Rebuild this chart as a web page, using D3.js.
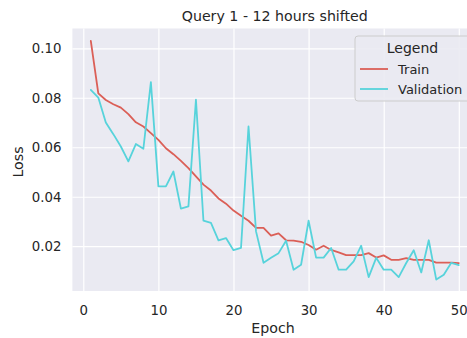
<!DOCTYPE html>
<html><head><meta charset="utf-8">
<script src="https://cdn.jsdelivr.net/npm/d3@7"></script>
<style>body{margin:0;background:#fff;} svg{display:block;font-family:"DejaVu Sans",sans-serif;}</style>
</head><body><svg id="c" width="467" height="338"></svg>
<script>
const epochs = d3.range(1, 51);
const train = [0.1030,0.0818,0.0791,0.0774,0.0760,0.0734,0.0701,0.0684,0.0657,0.0630,
  0.0596,0.0572,0.0545,0.0516,0.0482,0.0449,0.0425,0.0393,0.0372,0.0344,
  0.0323,0.0303,0.0274,0.0274,0.0243,0.0252,0.0224,0.0223,0.0218,0.0205,
  0.0186,0.0202,0.0185,0.0175,0.0164,0.0164,0.0164,0.0172,0.0154,0.0163,
  0.0145,0.0145,0.0152,0.0145,0.0145,0.0145,0.0134,0.0134,0.0134,0.0132];
const validation = [0.0832,0.0801,0.0700,0.0653,0.0603,0.0543,0.0613,0.0594,0.0863,0.0442,
  0.0442,0.0502,0.0352,0.0361,0.0792,0.0303,0.0294,0.0224,0.0233,0.0184,
  0.0193,0.0684,0.0260,0.0133,0.0153,0.0172,0.0222,0.0105,0.0125,0.0303,
  0.0154,0.0154,0.0193,0.0105,0.0105,0.0139,0.0202,0.0075,0.0153,0.0105,
  0.0105,0.0075,0.0132,0.0184,0.0094,0.0224,0.0065,0.0085,0.0133,0.0124];
const xTicks = [0,10,20,30,40,50];
const yTicks = [0.02,0.04,0.06,0.08,0.10];
const seriesNames = ["Train","Validation"];
const colors = ["#db5f57","#57d3db"];

const svg = d3.select("#c");
const L = 72.4, R = 477.2, T = 28.5, B = 291;
const x = d3.scaleLinear().domain([-1.45, 52.45]).range([L, R]);
const y = d3.scaleLinear().domain([0.0019, 0.1080]).range([B, T]);
const txt = "#262626";

svg.append("rect").attr("x", L).attr("y", T).attr("width", R - L).attr("height", B - T).attr("fill", "#eaeaf2");

const gx = svg.append("g").attr("transform", `translate(0,${B})`)
  .call(d3.axisBottom(x).tickValues(xTicks).tickSize(-(B - T)).tickPadding(14.5).tickFormat(d3.format("d")));
const gy = svg.append("g").attr("transform", `translate(${L},0)`)
  .call(d3.axisLeft(y).tickValues(yTicks).tickSize(-(R - L)).tickPadding(11).tickFormat(d3.format(".2f")));
[gx, gy].forEach(g => {
  g.select(".domain").remove();
  g.selectAll(".tick line").attr("stroke", "#fff").attr("stroke-width", 1.2);
  g.selectAll(".tick text").attr("fill", txt).style("font-size", "13.3px").style("font-family", "DejaVu Sans");
});

const line = d3.line().x((d, i) => x(epochs[i])).y(d => y(d));
[train, validation].forEach((s, k) => {
  svg.append("path").datum(s).attr("d", line).attr("fill", "none")
    .attr("stroke", colors[k]).attr("stroke-width", 1.8).attr("stroke-linejoin", "round").attr("stroke-linecap", "round");
});

svg.append("text").attr("x", 274.8).attr("y", 21).attr("text-anchor", "middle")
  .attr("fill", txt).style("font-size", "14.2px").text("Query 1 - 12 hours shifted");
svg.append("text").attr("x", 273).attr("y", 333).attr("text-anchor", "middle")
  .attr("fill", txt).style("font-size", "14.2px").text("Epoch");
svg.append("text").attr("transform", "translate(23,162) rotate(-90)").attr("text-anchor", "middle")
  .attr("fill", txt).style("font-size", "14.2px").text("Loss");

// legend
const lg = svg.append("g");
lg.append("rect").attr("x", 355).attr("y", 36).attr("width", 130).attr("height", 65).attr("rx", 3)
  .attr("fill", "#eaeaf2").attr("fill-opacity", 0.9).attr("stroke", "#cccccc").attr("stroke-width", 1);
lg.append("text").attr("x", 412.5).attr("y", 53).attr("text-anchor", "middle").attr("fill", txt)
  .style("font-size", "14px").text("Legend");
seriesNames.forEach((n, i) => {
  const yy = 69 + i * 20;
  lg.append("line").attr("x1", 360).attr("x2", 388).attr("y1", yy).attr("y2", yy)
    .attr("stroke", colors[i]).attr("stroke-width", 1.8);
  lg.append("text").attr("x", 398).attr("y", yy + 5).attr("fill", txt).style("font-size", "13px").text(n);
});
</script></body></html>
